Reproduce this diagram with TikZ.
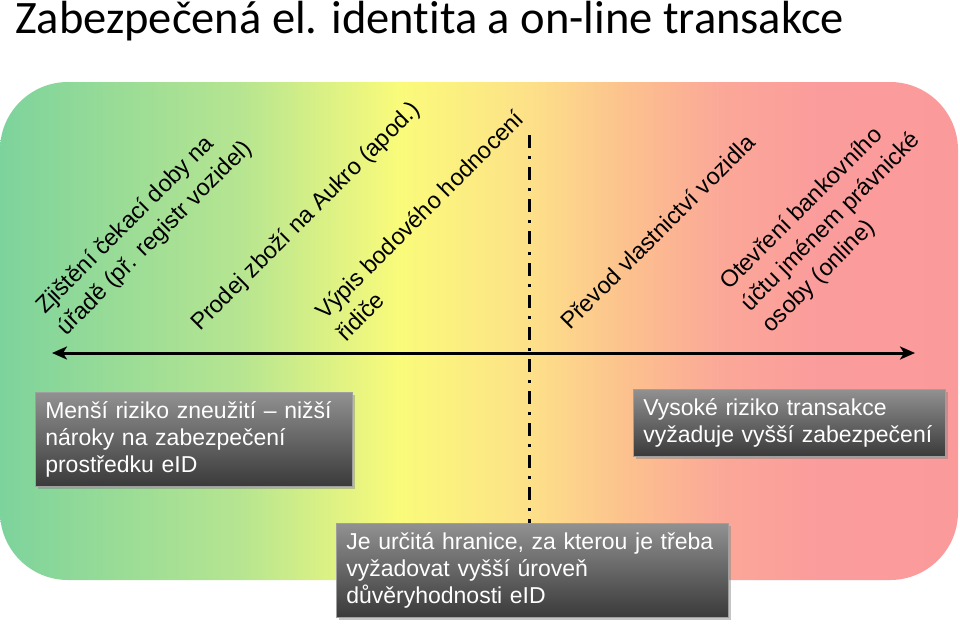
\documentclass[tikz,border=0pt]{standalone}
\usepackage{fontspec}
\setmainfont{Liberation Sans}
\newfontfamily\titlefont[Ligatures={NoCommon}]{Carlito}
\usetikzlibrary{shadows,arrows.meta}
\definecolor{bgA}{RGB}{125,211,156}
\definecolor{bgB}{RGB}{182,229,145}
\definecolor{bgC}{RGB}{250,251,122}
\definecolor{bgD}{RGB}{253,224,137}
\definecolor{bgE}{RGB}{252,192,142}
\definecolor{bgF}{RGB}{251,168,152}
\definecolor{bgG}{RGB}{251,156,156}
\definecolor{bgH}{RGB}{251,154,154}
\definecolor{boxtop}{RGB}{145,145,145}
\definecolor{boxbot}{RGB}{58,58,58}
\pgfdeclarehorizontalshading{bgshade}{100bp}{color(0bp)=(bgA); color(25bp)=(bgA); color(37.5bp)=(bgB); color(45.9bp)=(bgC); color(52.7bp)=(bgD); color(57.9bp)=(bgE); color(62.6bp)=(bgF); color(67.8bp)=(bgG); color(75bp)=(bgH); color(100bp)=(bgH)}
\tikzset{
  rottext/.style={rotate=45, anchor=north west, inner sep=0pt, align=left, font=\fontsize{23.5}{30}\selectfont},
  infobox/.style={anchor=north west, align=left, text=white, font=\fontsize{23}{27}\selectfont,
    top color=boxtop, bottom color=boxbot, draw=gray!75, line width=0.6pt,
    inner xsep=10pt, inner ysep=4pt,
    drop shadow={shadow xshift=2.5pt, shadow yshift=-3pt, opacity=0.45}},
  axisline/.style={line width=3pt, {Stealth[length=15pt,width=13pt,inset=4pt]}-{Stealth[length=15pt,width=13pt,inset=4pt]}},
  borderline/.style={line width=3pt, dash pattern=on 13pt off 8pt on 3pt off 8pt}
}
\begin{document}
\begin{tikzpicture}[x=1pt,y=1pt]
\useasboundingbox (0,0) rectangle (960,-624);
\fill[white] (0,0) rectangle (960,-624);
% background band
\path[shading=bgshade, rounded corners=68pt] (0,-82) rectangle (958,-580);
% title
\node[anchor=base west, inner sep=0pt, font=\titlefont\fontsize{46.5}{50}\selectfont] (title) at (15,-33) {Zabezpečená el. identita a on-line transakce};
% axis
\coordinate (aL) at (52,-353);
\coordinate (aR) at (915,-353);
\draw[axisline] (aL) -- (aR);
% rotated labels
\node[rottext] (t1) at (30,-300) {\strut Zjištění čekací doby na\\úřadě (př. registr vozidel)};
\node[rottext] (t2) at (185,-317) {\strut Prodej zboží na Aukro (apod.)};
\node[rottext] (t3) at (310,-306) {\strut Výpis bodového hodnocení\\řidiče};
\node[rottext] (t4) at (555,-316) {\strut Převod vlastnictví vozidla};
\node[rottext] (t5) at (714,-276) {\strut Otevření bankovního\\účtu jménem právnické\\osoby (online)};
% boxes
\node[infobox, text width=297pt, minimum height=94pt] (low) at (35,-392) {Menší riziko zneužití – nižší\\nároky na zabezpečení\\prostředku eID};
\node[infobox, text width=292pt, minimum height=67pt] (high) at (633,-389) {Vysoké riziko transakce\\vyžaduje vyšší zabezpečení};
% border line
\coordinate (dtop) at (529,-135);
\coordinate (dbot) at (529,-525);
\draw[borderline] (dtop) -- (dbot);
\node[infobox, text width=372pt, minimum height=94pt] (limit) at (336,-523) {Je určitá hranice, za kterou je třeba\\vyžadovat vyšší úroveň\\důvěryhodnosti eID};
\end{tikzpicture}
\end{document}
